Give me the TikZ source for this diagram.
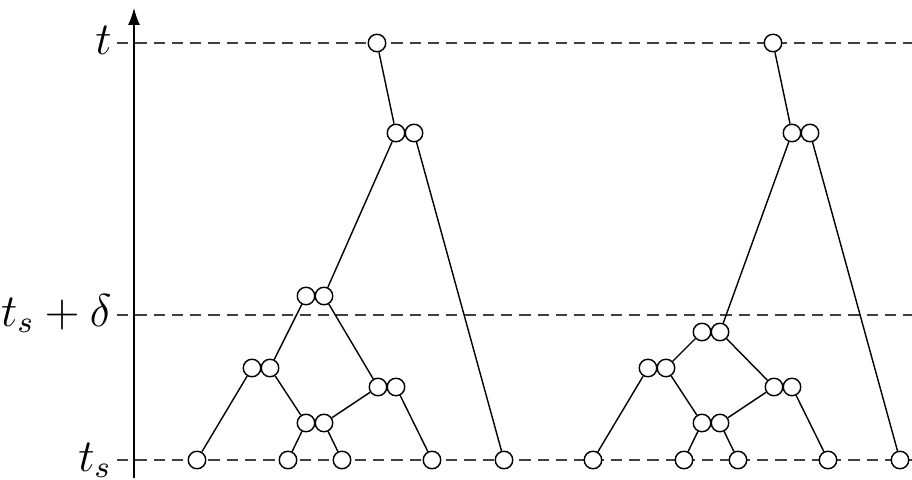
\documentclass[tikz,border=0pt]{standalone}
\usetikzlibrary{arrows.meta}

\begin{document}
\begin{tikzpicture}[x=0.01cm, y=0.01cm]
      \tikzset{vertex/.style={draw, circle, fill=white, inner sep=0pt, minimum size=0.175cm}}
      \tikzset{level/.style={black!75, dash pattern=on 3.2pt off 2pt}}
      \tikzset{lbl/.style={anchor=mid east, inner sep=1.2pt, yshift=-0.8pt, scale=1.09, font=\large}}
      \useasboundingbox (0,0) rectangle (912,-480);
      % time axis
      \coordinate (axbot) at (134,-478);
      \coordinate (axtop) at (134,-8);
      \draw [-{Latex[length=4.8pt,width=3.4pt]}] (axbot) -- (axtop);
      % levels
      \coordinate (tA) at (117,-43);
      \coordinate (tB) at (912,-43);
      \coordinate (dA) at (117,-315);
      \coordinate (dB) at (912,-315);
      \coordinate (sA) at (117,-460);
      \coordinate (sB) at (912,-460);
      \draw [level] (tA) -- (tB);
      \draw [level] (dA) -- (dB);
      \draw [level] (sA) -- (sB);
      \node [lbl] (lt) at (tA) {$t$};
      \node [lbl] (ld) at (dA) {$t_s+\delta$};
      \node [lbl] (ls) at (sA) {$t_s$};
      % left tree
      \node [vertex] (a0) at (377,-43) {};
      \node [vertex] (a1l) at (396,-133) {};
      \node [vertex] (a1r) at (414,-133) {};
      \node [vertex] (a2l) at (306,-296) {};
      \node [vertex] (a2r) at (324,-296) {};
      \node [vertex] (a3l) at (252,-368) {};
      \node [vertex] (a3r) at (270,-368) {};
      \node [vertex] (a4l) at (378,-387) {};
      \node [vertex] (a4r) at (396,-387) {};
      \node [vertex] (a5l) at (306,-423) {};
      \node [vertex] (a5r) at (324,-423) {};
      \node [vertex] (ax1) at (197,-460) {};
      \node [vertex] (ax2) at (288,-460) {};
      \node [vertex] (ax3) at (342,-460) {};
      \node [vertex] (ax4) at (432,-460) {};
      \node [vertex] (ax5) at (504,-460) {};
      \draw (a0) -- (a1l);
      \draw (a1r) -- (ax5);
      \draw (a1l) -- (a2r);
      \draw (a2l) -- (a3r);
      \draw (a2r) -- (a4l);
      \draw (a3l) -- (ax1);
      \draw (a3r) -- (a5l);
      \draw (a4l) -- (a5r);
      \draw (a4r) -- (ax4);
      \draw (a5l) -- (ax2);
      \draw (a5r) -- (ax3);
      % right tree
      \node [vertex] (b0) at (773,-43) {};
      \node [vertex] (b1l) at (792,-133) {};
      \node [vertex] (b1r) at (810,-133) {};
      \node [vertex] (b2l) at (702,-332) {};
      \node [vertex] (b2r) at (720,-332) {};
      \node [vertex] (b3l) at (648,-368) {};
      \node [vertex] (b3r) at (666,-368) {};
      \node [vertex] (b4l) at (774,-387) {};
      \node [vertex] (b4r) at (792,-387) {};
      \node [vertex] (b5l) at (702,-423) {};
      \node [vertex] (b5r) at (720,-423) {};
      \node [vertex] (bx1) at (593,-460) {};
      \node [vertex] (bx2) at (684,-460) {};
      \node [vertex] (bx3) at (738,-460) {};
      \node [vertex] (bx4) at (828,-460) {};
      \node [vertex] (bx5) at (900,-460) {};
      \draw (b0) -- (b1l);
      \draw (b1r) -- (bx5);
      \draw (b1l) -- (b2r);
      \draw (b2l) -- (b3r);
      \draw (b2r) -- (b4l);
      \draw (b3l) -- (bx1);
      \draw (b3r) -- (b5l);
      \draw (b4l) -- (b5r);
      \draw (b4r) -- (bx4);
      \draw (b5l) -- (bx2);
      \draw (b5r) -- (bx3);
\end{tikzpicture}
\end{document}
